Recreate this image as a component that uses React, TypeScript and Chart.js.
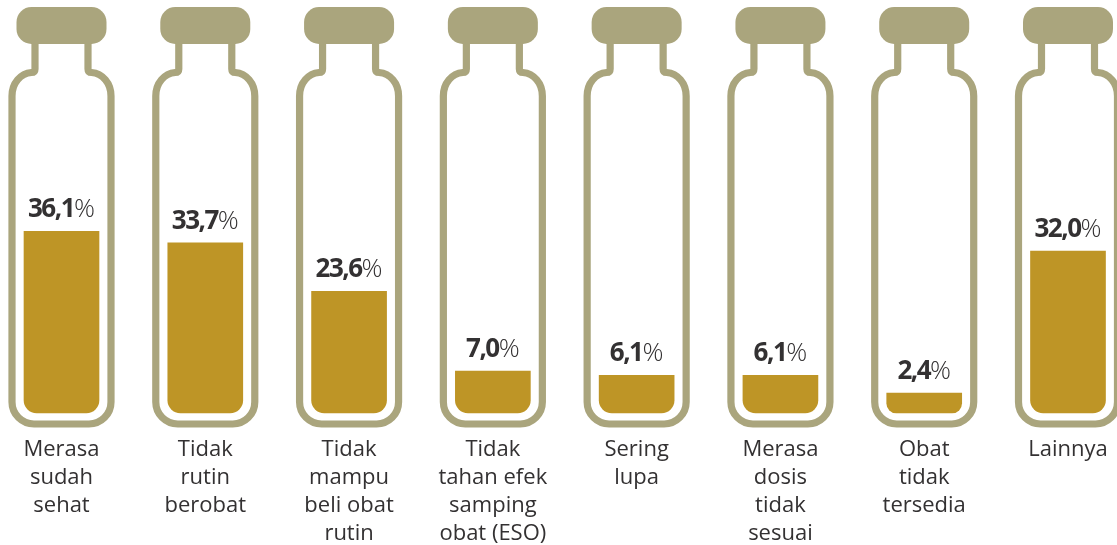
import React, { useEffect, useRef } from "react";
import { Chart, registerables } from "chart.js";

Chart.register(...registerables);

const reasons: string[][] = [
  ["Merasa", "sudah", "sehat"],
  ["Tidak", "rutin", "berobat"],
  ["Tidak", "mampu", "beli obat", "rutin"],
  ["Tidak", "tahan efek", "samping", "obat (ESO)"],
  ["Sering", "lupa"],
  ["Merasa", "dosis", "tidak", "sesuai"],
  ["Obat", "tidak", "tersedia"],
  ["Lainnya"],
];
const shares: number[] = [36.1, 33.7, 23.6, 7.0, 6.1, 6.1, 2.4, 32.0];

const GLASS = "#aaa57d";
const LIQUID = "#be9526";
const INK = "#333132";

// Outline of one bottle: the liquid column stands inside it.
const bottlePlugin = {
  id: "bottles",
  beforeDatasetsDraw(chart: Chart) {
    const { ctx } = chart;
    const x = chart.scales.x;
    ctx.save();
    reasons.forEach((_, i) => {
      const cx = x.getPixelForValue(i);
      ctx.strokeStyle = GLASS;
      ctx.fillStyle = GLASS;
      ctx.lineWidth = 7.2;
      ctx.lineJoin = "round";
      ctx.beginPath();
      ctx.moveTo(cx - 26.5, 38);
      ctx.lineTo(cx - 26.5, 69);
      ctx.quadraticCurveTo(cx - 26.5, 72.5, cx - 30, 72.5);
      ctx.bezierCurveTo(cx - 41, 73.5, cx - 49.5, 83, cx - 49.5, 96);
      ctx.lineTo(cx - 49.5, 402);
      ctx.arcTo(cx - 49.5, 424, cx - 27.5, 424, 22);
      ctx.lineTo(cx + 27.5, 424);
      ctx.arcTo(cx + 49.5, 424, cx + 49.5, 402, 22);
      ctx.lineTo(cx + 49.5, 96);
      ctx.bezierCurveTo(cx + 49.5, 83, cx + 41, 73.5, cx + 30, 72.5);
      ctx.quadraticCurveTo(cx + 26.5, 72.5, cx + 26.5, 69);
      ctx.lineTo(cx + 26.5, 38);
      ctx.stroke();
      // Stopper
      ctx.beginPath();
      ctx.roundRect(cx - 45, 7, 90, 37, 15);
      ctx.fill();
    });
    ctx.restore();
  },
};

// Bold figure followed by a thin percent sign, centred above each column.
const valueLabelPlugin = {
  id: "valueLabels",
  afterDatasetsDraw(chart: Chart) {
    const { ctx } = chart;
    const meta = chart.getDatasetMeta(0);
    ctx.save();
    ctx.fillStyle = INK;
    ctx.textBaseline = "alphabetic";
    ctx.textAlign = "left";
    shares.forEach((value, i) => {
      const figure = value.toFixed(1).replace(".", ",");
      const bar = meta.data[i] as any;
      ctx.font = '700 26px "Open Sans"';
      (ctx as any).letterSpacing = "-1.5px";
      const figureWidth = ctx.measureText(figure).width;
      ctx.font = '300 26px "Open Sans"';
      (ctx as any).letterSpacing = "0px";
      const signWidth = ctx.measureText("%").width;
      const start = bar.x - (figureWidth + signWidth) / 2;
      const baseline = bar.y - 14;
      ctx.font = '700 26px "Open Sans"';
      (ctx as any).letterSpacing = "-1.5px";
      ctx.fillText(figure, start, baseline);
      ctx.font = '300 26px "Open Sans"';
      (ctx as any).letterSpacing = "0px";
      ctx.fillText("%", start + figureWidth, baseline);
    });
    ctx.restore();
  },
};

export default function App() {
  const canvasRef = useRef<HTMLCanvasElement>(null);

  useEffect(() => {
    const chart = new Chart(canvasRef.current!, {
      type: "bar",
      data: {
        labels: reasons,
        datasets: [
          {
            data: shares,
            base: -1.75,
            backgroundColor: LIQUID,
            barThickness: 75,
            borderRadius: { topLeft: 0, topRight: 0, bottomLeft: 13, bottomRight: 13 },
            borderSkipped: false,
            clip: false,
          } as any,
        ],
      },
      options: {
        responsive: false,
        animation: false,
        layout: { autoPadding: false, padding: { left: 61.5, right: 49, top: 29, bottom: 0 } },
        plugins: { legend: { display: false }, tooltip: { enabled: false } },
        scales: {
          x: {
            type: "category",
            offset: false,
            border: { display: false },
            grid: { display: false },
            afterFit: (scale: any) => {
              scale.height = 132;
              scale.paddingLeft = 0;
              scale.paddingRight = 0;
            },
            ticks: {
              autoSkip: false,
              maxRotation: 0,
              minRotation: 0,
              padding: 15,
              color: INK,
              font: { family: '"Open Sans"', size: 22, lineHeight: 1.27 },
            },
          },
          y: { display: false, min: -1.75, max: 78.25 },
        },
      },
      plugins: [bottlePlugin, valueLabelPlugin],
    });
    return () => chart.destroy();
  }, []);

  return (
    <div style={{ position: "fixed", left: 0, top: 0, width: 1117, height: 545, background: "#fff" }}>
      <canvas ref={canvasRef} width={1117} height={545} style={{ display: "block" }} />
    </div>
  );
}
